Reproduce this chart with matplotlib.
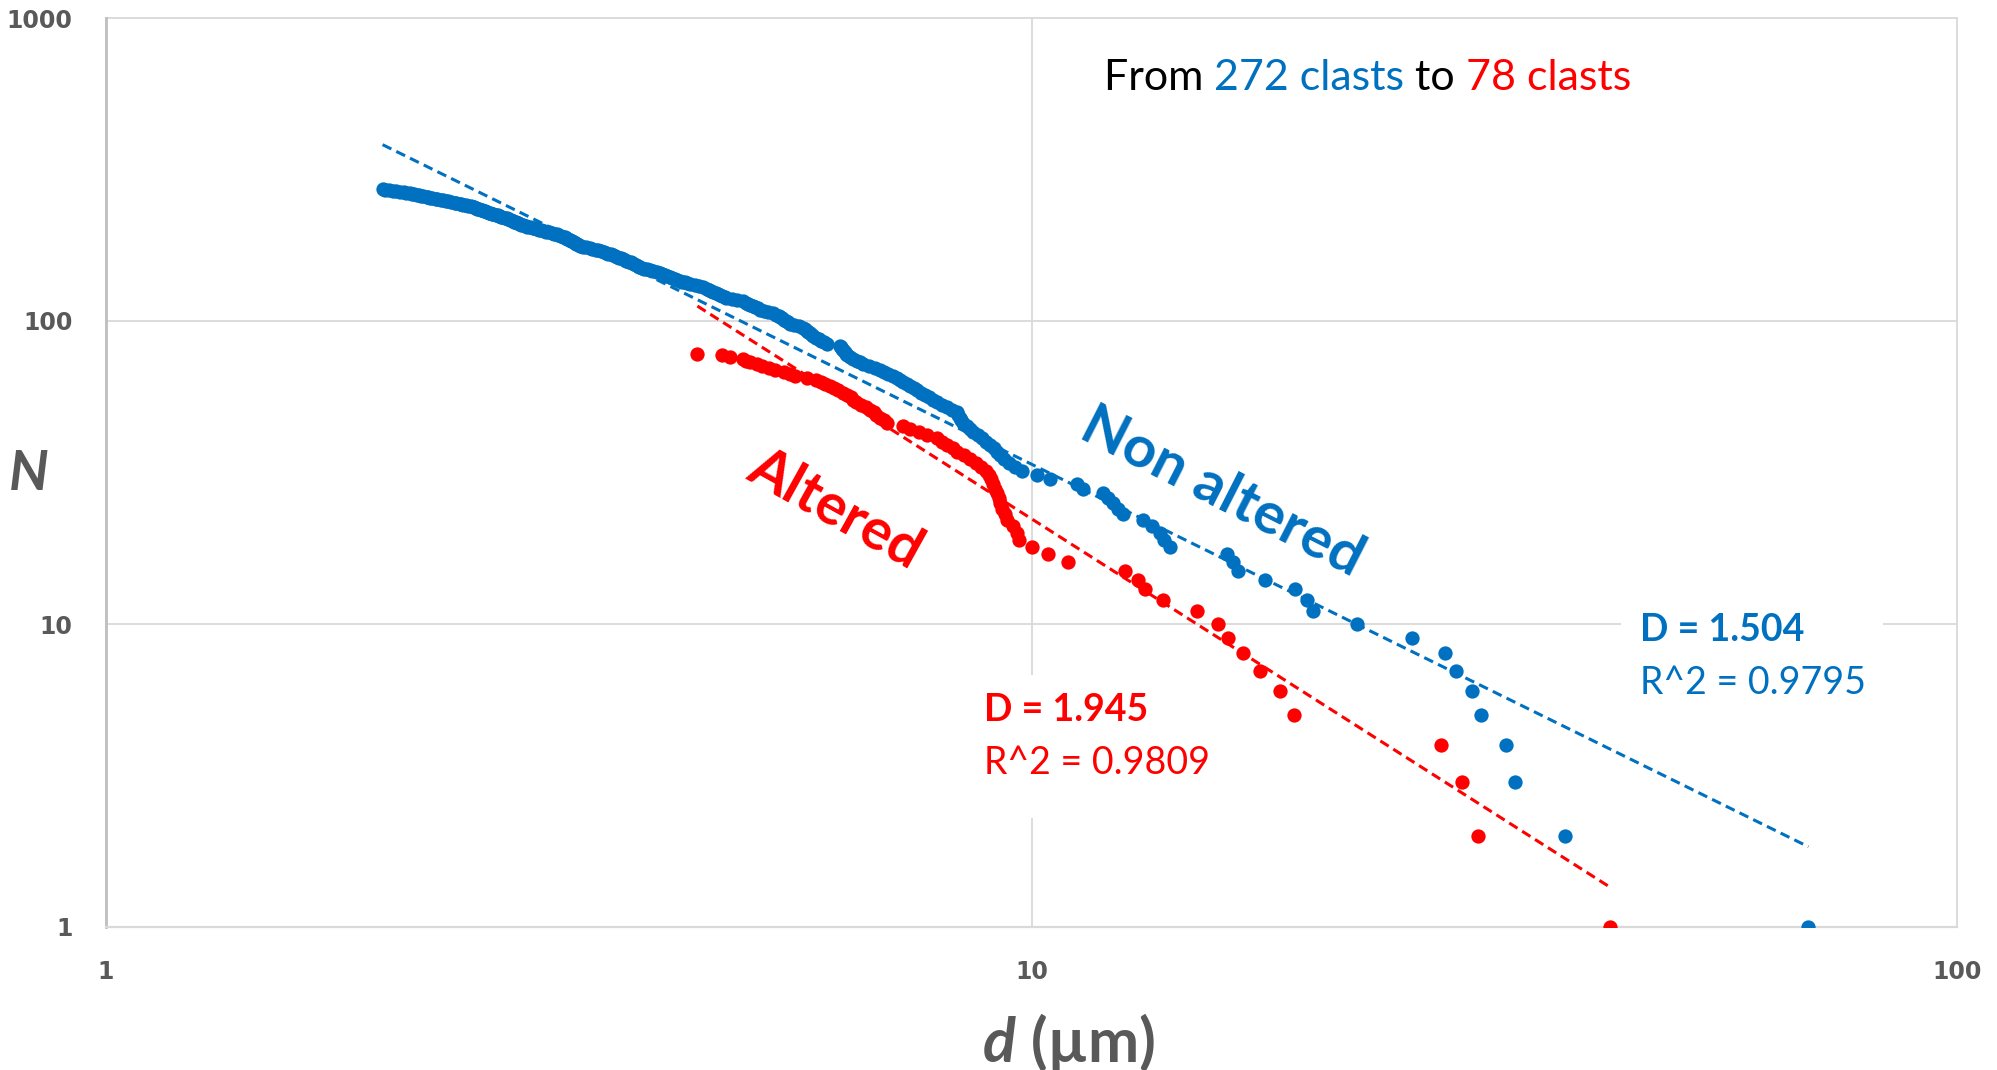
import numpy as np
import matplotlib
matplotlib.use("Agg")
import matplotlib.pyplot as plt
from matplotlib.patches import Rectangle
from matplotlib.ticker import FixedLocator, FixedFormatter, NullLocator

# Cumulative size distributions: clast diameter d (um), ranked from the smallest
# clast (N = total count) up to the largest one (N = 1)
non_altered_d = [
    1.99, 2.00, 2.02, 2.04, 2.06, 2.08, 2.10, 2.11, 2.13, 2.14,
    2.15, 2.17, 2.18, 2.19, 2.20, 2.22, 2.23, 2.24, 2.25, 2.27,
    2.28, 2.30, 2.31, 2.33, 2.34, 2.36, 2.38, 2.39, 2.41, 2.42,
    2.43, 2.45, 2.46, 2.48, 2.49, 2.50, 2.51, 2.52, 2.53, 2.54,
    2.55, 2.56, 2.57, 2.58, 2.59, 2.60, 2.61, 2.62, 2.64, 2.65,
    2.66, 2.67, 2.68, 2.70, 2.71, 2.72, 2.73, 2.74, 2.75, 2.76,
    2.77, 2.78, 2.79, 2.80, 2.81, 2.82, 2.84, 2.85, 2.87, 2.89,
    2.90, 2.92, 2.94, 2.95, 2.97, 2.99, 3.01, 3.03, 3.05, 3.07,
    3.08, 3.10, 3.12, 3.13, 3.14, 3.15, 3.16, 3.17, 3.18, 3.19,
    3.20, 3.21, 3.22, 3.23, 3.24, 3.25, 3.28, 3.30, 3.33, 3.35,
    3.38, 3.40, 3.43, 3.45, 3.47, 3.49, 3.51, 3.53, 3.55, 3.57,
    3.58, 3.60, 3.62, 3.64, 3.65, 3.67, 3.69, 3.70, 3.72, 3.74,
    3.76, 3.77, 3.79, 3.81, 3.84, 3.87, 3.90, 3.94, 3.97, 3.99,
    4.02, 4.04, 4.07, 4.09, 4.12, 4.14, 4.17, 4.19, 4.22, 4.24,
    4.28, 4.33, 4.37, 4.42, 4.46, 4.48, 4.51, 4.53, 4.56, 4.58,
    4.61, 4.63, 4.66, 4.68, 4.75, 4.81, 4.88, 4.91, 4.94, 4.97,
    5.00, 5.03, 5.06, 5.09, 5.14, 5.19, 5.25, 5.30, 5.33, 5.35,
    5.38, 5.40, 5.43, 5.45, 5.48, 5.54, 5.61, 5.67, 5.69, 5.72,
    5.74, 5.76, 5.79, 5.81, 5.85, 5.89, 5.93, 5.97, 6.01, 6.21,
    6.23, 6.24, 6.26, 6.28, 6.30, 6.32, 6.37, 6.42, 6.48, 6.53,
    6.58, 6.68, 6.77, 6.86, 6.93, 7.00, 7.08, 7.15, 7.21, 7.27,
    7.33, 7.40, 7.46, 7.52, 7.60, 7.67, 7.75, 7.82, 7.90, 8.00,
    8.10, 8.20, 8.30, 8.33, 8.37, 8.40, 8.44, 8.51, 8.58, 8.65,
    8.75, 8.84, 8.94, 9.02, 9.10, 9.17, 9.25, 9.35, 9.45, 9.60,
    9.77, 10.13, 10.47, 11.19, 11.38, 11.96, 12.10, 12.26, 12.40, 12.57,
    13.21, 13.50, 13.77, 13.90, 14.11, 16.25, 16.50, 16.70, 17.88, 19.27,
    19.83, 20.13, 22.49, 25.80, 27.98, 28.73, 29.90, 30.60, 32.56, 33.30,
    37.70, 69.10,
]
altered_d = [
    4.355, 4.63, 4.72, 4.88, 4.92, 4.96, 5.05, 5.12, 5.20, 5.28,
    5.40, 5.48, 5.55, 5.72, 5.85, 5.93, 5.98, 6.05, 6.12, 6.18,
    6.25, 6.32, 6.38, 6.42, 6.47, 6.55, 6.62, 6.69, 6.75, 6.80,
    6.86, 6.92, 6.98, 7.27, 7.40, 7.55, 7.71, 7.90, 8.00, 8.10,
    8.22, 8.30, 8.45, 8.58, 8.70, 8.82, 8.94, 9.00, 9.05, 9.09,
    9.13, 9.18, 9.22, 9.25, 9.30, 9.36, 9.42, 9.55, 9.64, 9.70,
    10.0, 10.43, 10.96, 12.62, 13.04, 13.27, 13.88, 15.08, 15.92, 16.32,
    16.93, 17.66, 18.56, 19.21, 27.7, 29.2, 30.4, 42.2,
]

# Power-law fits N = C * d^-D
non_altered_D, non_altered_R2, non_altered_C = 1.504, 0.9795, 1075.0
altered_D, altered_R2, altered_C = 1.945, 0.9809, 1960.0

x_ticks = [1, 10, 100]
x_ticklabels = ["1", "10", "100"]
y_ticks = [1, 10, 100, 1000]
y_ticklabels = ["1", "10", "100", "1000"]

BLUE = "#0070C0"
RED = "#FF0000"
GREY = "#595959"
FONT = ["Lato", "DejaVu Sans"]

fig = plt.figure(figsize=(19.97, 10.70), dpi=100, facecolor="white")
ax = fig.add_axes([106 / 1997, 1 - 927 / 1070, 1851 / 1997, 909 / 1070])
ax.set_xscale("log")
ax.set_yscale("log")
ax.set_xlim(1, 100)
ax.set_ylim(1, 1000)

ax.xaxis.set_major_locator(FixedLocator(x_ticks))
ax.xaxis.set_major_formatter(FixedFormatter(x_ticklabels))
ax.yaxis.set_major_locator(FixedLocator(y_ticks))
ax.yaxis.set_major_formatter(FixedFormatter(y_ticklabels))
ax.xaxis.set_minor_locator(NullLocator())
ax.yaxis.set_minor_locator(NullLocator())
ax.tick_params(length=0, labelsize=17, labelcolor=GREY)
ax.tick_params(axis="x", pad=24)
ax.tick_params(axis="y", pad=24)
for lab in ax.get_xticklabels() + ax.get_yticklabels():
    lab.set_fontweight("bold")
    lab.set_family("DejaVu Sans")

ax.set_axisbelow(True)
ax.grid(True, color="#D9D9D9", linewidth=1.3, clip_on=False)
for side in ("top", "right"):
    ax.spines[side].set_visible(False)
ax.spines["left"].set_color("#BFBFBF")
ax.spines["left"].set_linewidth(2.0)
ax.spines["bottom"].set_color("#D9D9D9")
ax.spines["bottom"].set_linewidth(1.6)


def px(x, y):
    """Pixel position on the page -> figure fraction."""
    return x / 1997, 1 - y / 1070


# white boxes behind the fit labels (they hide the gridlines)
for (x0, y0, x1, y1) in [(970, 675, 1232, 818), (1621, 592, 1883, 735)]:
    fig.patches.append(Rectangle(px(x0, y1), (x1 - x0) / 1997, (y1 - y0) / 1070,
                                 transform=fig.transFigure, facecolor="white",
                                 edgecolor="none", zorder=0.8))

# data
na_d = np.array(non_altered_d)
na_n = np.arange(len(na_d), 0, -1)
al_d = np.array(altered_d)
al_n = np.arange(len(al_d), 0, -1)

ax.plot(na_d, na_n, "o", color=BLUE, markersize=10.3, markeredgewidth=0, zorder=3)
ax.plot(al_d, al_n, "o", color=RED, markersize=10.3, markeredgewidth=0, zorder=3)

# fitted trend lines over the range of each data set
for d, C, D, col in [(na_d, non_altered_C, non_altered_D, BLUE),
                     (al_d, altered_C, altered_D, RED)]:
    xs = np.array([d.min(), d.max()])
    ax.plot(xs, C * xs ** (-D), color=col, linewidth=2.2,
            dashes=(3.2, 1.8), zorder=2.5)


def text_run(x, y, parts, **common):
    """Write consecutive text pieces on one line, each with its own style."""
    s, props = parts[0]
    t = fig.text(x, y, s, va="bottom", **common, **props)
    for s, props in parts[1:]:
        t = ax.annotate(s, xy=(1, 0), xycoords=t, va="bottom",
                        annotation_clip=False, **common, **props)
    return t


# headline
text_run(*px(1104, 97), [("From ", dict(color="black")),
                         ("272 clasts", dict(color=BLUE)),
                         (" to ", dict(color="black")),
                         ("78 clasts", dict(color=RED))],
         fontsize=31, family=FONT)

# series names along the curves
fig.text(*px(1222, 492), "Non altered", color=BLUE, fontsize=42, fontweight="bold",
         family=FONT, rotation=-27, rotation_mode="anchor", ha="center", va="center")
fig.text(*px(835, 510), "Altered", color=RED, fontsize=41, fontweight="bold",
         family=FONT, rotation=-29, rotation_mode="anchor", ha="center", va="center")

# fit results
fig.text(*px(1640, 630), f"D = {non_altered_D:.3f}", color=BLUE, fontsize=27,
         fontweight="bold", family=FONT, va="center", zorder=3)
fig.text(*px(1640, 683), f"R^2 = {non_altered_R2:.4f}", color=BLUE, fontsize=27,
         family=FONT, va="center", zorder=3)
fig.text(*px(984, 710), f"D = {altered_D:.3f}", color=RED, fontsize=27,
         fontweight="bold", family=FONT, va="center", zorder=3)
fig.text(*px(984, 763), f"R^2 = {altered_R2:.4f}", color=RED, fontsize=27,
         family=FONT, va="center", zorder=3)

# axis titles
fig.text(*px(29, 474), "N", color=GREY, fontsize=40, fontweight="bold",
         fontstyle="italic", family=FONT, ha="center", va="center")
text_run(*px(983, 1072), [("d", dict(fontstyle="italic")), (" (µm)", {})],
         color=GREY, fontsize=44, fontweight="bold", family=FONT)

fig.savefig("out.png", dpi=100, facecolor="white")
